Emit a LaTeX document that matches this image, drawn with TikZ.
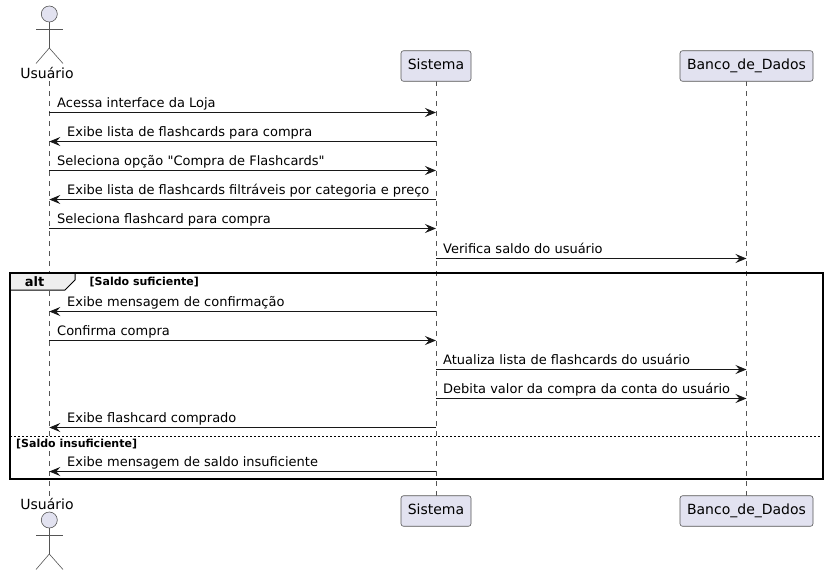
\documentclass[tikz,border=0pt]{standalone}
\usepackage{fontspec}
\setmainfont{DejaVu Sans}
\newfontfamily\plainmsg{DejaVu Sans}
\usetikzlibrary{arrows.meta,calc}
\definecolor{partfill}{HTML}{E2E2F0}
\definecolor{ink}{HTML}{181818}
\definecolor{thinink}{HTML}{555555}
\definecolor{tabfill}{HTML}{EEEEEE}
\tikzset{
  x=1pt,y=-1pt,
  partbox/.style={draw=thinink,line width=0.6pt,fill=partfill,rounded corners=2.5pt,inner sep=0pt,minimum height=30.5pt,text height=10.5pt,text depth=3.5pt,font=\fontsize{14}{16}\selectfont,text=black},
  lifeline/.style={draw=thinink,line width=0.5pt,dash pattern=on 5pt off 5pt},
  stick/.style={draw=thinink,line width=0.6pt},
  head/.style={draw=thinink,line width=0.6pt,fill=partfill,circle,inner sep=0pt,minimum size=16pt},
  actorname/.style={inner sep=0pt,font=\fontsize{14}{16}\selectfont,text=black},
  msg/.style={draw=ink,line width=0.9pt,-{Stealth[length=11pt,width=9pt,inset=4pt]}},
  msgtext/.style={anchor=base west,inner sep=0pt,font=\plainmsg\fontsize{13}{15}\selectfont,text=black},
  framebox/.style={draw=black,line width=1.5pt},
  guard/.style={anchor=base west,inner sep=0pt,font=\fontsize{11}{12}\selectfont\bfseries,text=black},
  alttext/.style={inner sep=0pt,font=\fontsize{13}{15}\selectfont\bfseries,text=black},
}
\newcommand{\actorfig}[2]{% name prefix, head y
  \node[head] (#1h) at (49.3,#2) {};
  \coordinate (#1c) at (49.3,#2+34);
  \coordinate (#1al) at (36,#2+15.5);
  \coordinate (#1ar) at (63,#2+15.5);
  \coordinate (#1ll) at (36,#2+49.5);
  \coordinate (#1lr) at (63,#2+49.5);
  \draw[stick] (#1h.south) -- (#1c);
  \draw[stick] (#1al) -- (#1ar);
  \draw[stick] (#1ll) -- (#1c) -- (#1lr);
}
\newcommand{\msgright}[6]{% id, y, from x, to x, text x, text
  \coordinate (#1a) at (#3,#2);
  \coordinate (#1b) at (#4,#2);
  \draw[msg] (#1a) -- (#1b);
  \node[msgtext] (#1t) at (#5,#2-5) {#6};
}
\begin{document}
\begin{tikzpicture}
\useasboundingbox (0,0) rectangle (829,576);
% lifelines
\coordinate (uTop) at (49.3,81);
\coordinate (uBot) at (49.3,496);
\coordinate (sTop) at (436,81);
\coordinate (sBot) at (436,496);
\coordinate (bTop) at (746.5,81);
\coordinate (bBot) at (746.5,496);
\draw[lifeline] (uTop) -- (uBot);
\draw[lifeline] (sTop) -- (sBot);
\draw[lifeline] (bTop) -- (bBot);
% frame tab
\coordinate (fa) at (10,273);
\coordinate (fb) at (823,479);
\fill[tabfill] (10,273) -- (75,273) -- (75,280) -- (65,290) -- (10,290) -- cycle;
\draw[line width=1pt,draw=black] (75,273) -- (75,280) -- (65,290) -- (10,290);
\draw[framebox] (fa) rectangle (fb);
\draw[black,line width=0.8pt,dash pattern=on 2pt off 2pt] (10,436.5) -- (823,436.5);
\node[alttext] (altlabel) at (34.5,281.5) {alt};
\node[guard] (g1) at (89.5,285) {[Saldo suficiente]};
\node[guard] (g2) at (16,447) {[Saldo insuficiente]};
% top participants
\actorfig{ut}{14}
\node[actorname] (uName) at (47,73) {Usuário};
\node[partbox,minimum width=70pt] (sHead) at (436,66) {Sistema};
\node[partbox,minimum width=133pt] (bHead) at (746.5,66) {Banco\_de\_Dados};
% bottom participants
\node[actorname] (uNameB) at (47,504) {Usuário};
\actorfig{ub}{520}
\node[partbox,minimum width=70pt] (sFoot) at (436,511) {Sistema};
\node[partbox,minimum width=133pt] (bFoot) at (746.5,511) {Banco\_de\_Dados};
% messages
\msgright{m1}{112.5}{49.3}{436}{57}{Acessa interface da Loja}
\msgright{m2}{141.5}{436}{49.3}{67}{Exibe lista de flashcards para compra}
\msgright{m3}{170.5}{49.3}{436}{57}{Seleciona opção "Compra de Flashcards"}
\msgright{m4}{199.5}{436}{49.3}{67}{Exibe lista de flashcards filtráveis por categoria e preço}
\msgright{m5}{228.5}{49.3}{436}{57}{Seleciona flashcard para compra}
\msgright{m6}{258.5}{436}{746.5}{443}{Verifica saldo do usuário}
\msgright{m7}{311.5}{436}{49.3}{67}{Exibe mensagem de confirmação}
\msgright{m8}{340.5}{49.3}{436}{57}{Confirma compra}
\msgright{m9}{369.5}{436}{746.5}{443}{Atualiza lista de flashcards do usuário}
\msgright{m10}{398.5}{436}{746.5}{443}{Debita valor da compra da conta do usuário}
\msgright{m11}{427.5}{436}{49.3}{67}{Exibe flashcard comprado}
\msgright{m12}{471.5}{436}{49.3}{67}{Exibe mensagem de saldo insuficiente}
\end{tikzpicture}
\end{document}
